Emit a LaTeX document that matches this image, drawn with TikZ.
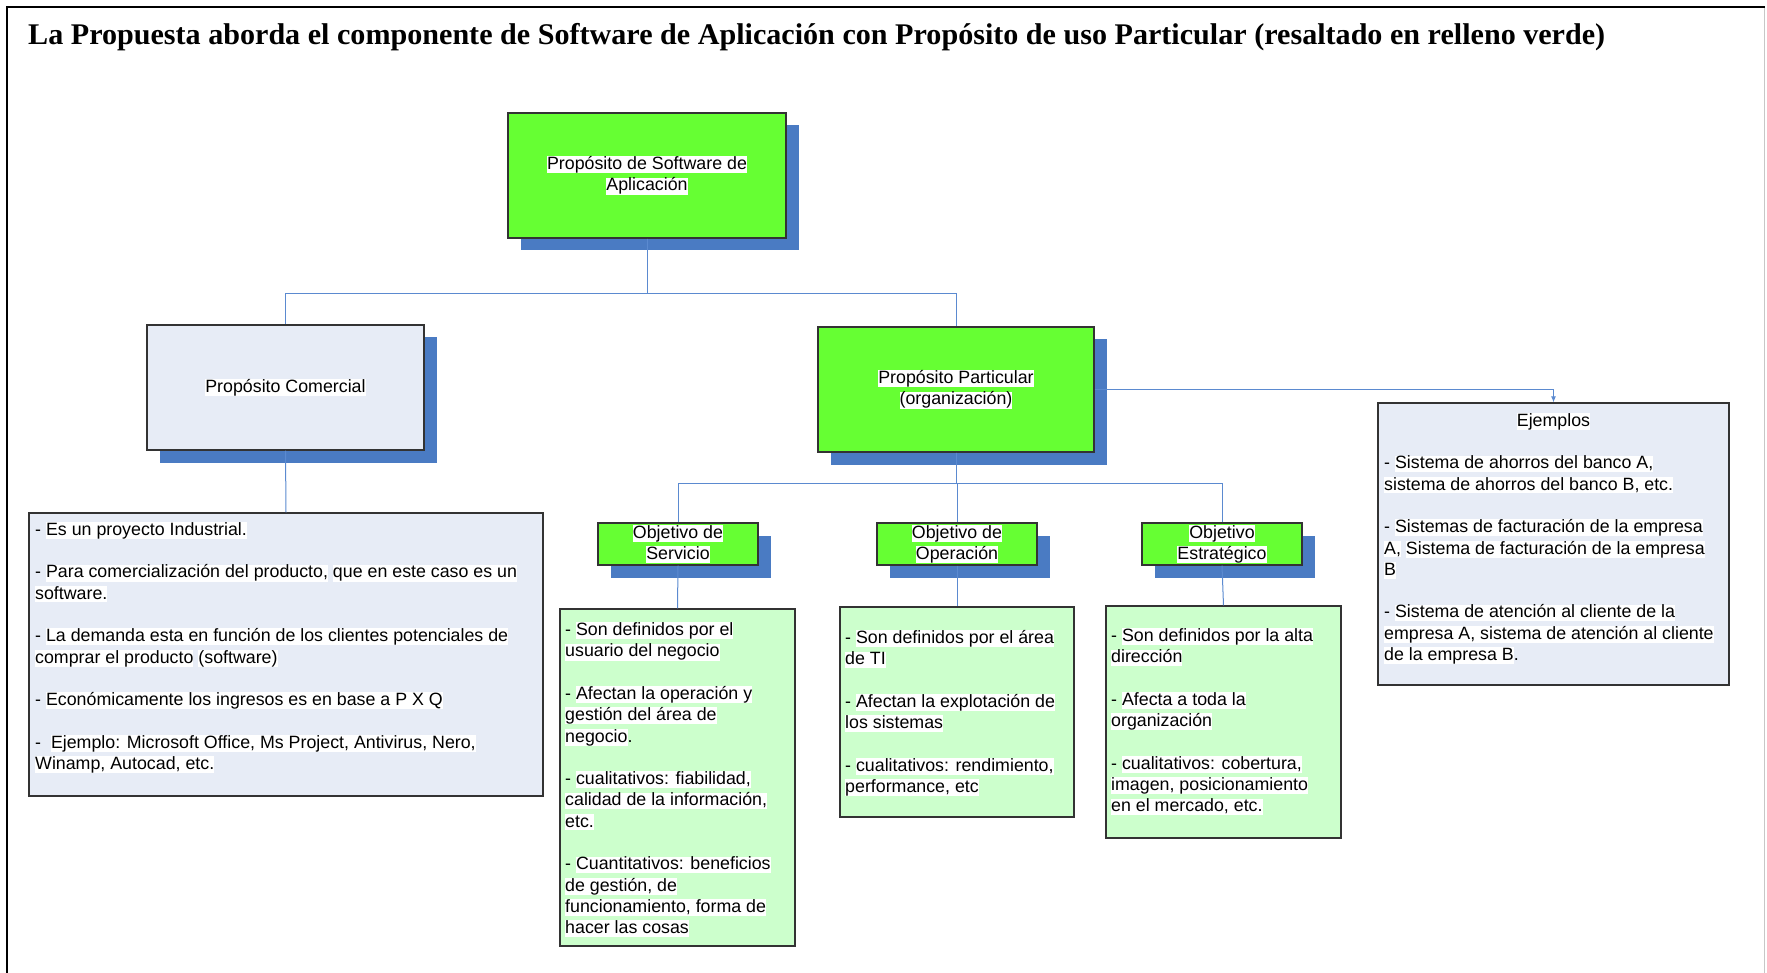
\documentclass[tikz,border=0pt]{standalone}
\usepackage{graphicx}
\usepackage{fontspec}
\setmainfont{Liberation Sans}
\newfontfamily\headfont{Liberation Serif}
\usetikzlibrary{arrows.meta,shadows}

\definecolor{boxgreen}{HTML}{66FF33}
\definecolor{paleblue}{HTML}{E7ECF6}
\definecolor{palegreen}{HTML}{CCFFCC}
\definecolor{shadowblue}{HTML}{4A7BC3}
\definecolor{linkblue}{HTML}{5B8AD0}
\definecolor{edgegray}{HTML}{333333}

% white highlight behind a run of text
\newcommand\hl[1]{{\setlength{\fboxsep}{0pt}\colorbox{white}{\rule[-0.18em]{0pt}{0.93em}#1}}}
\newcommand\bodysize{\fontsize{17.8pt}{21.3pt}\selectfont}

\tikzset{
  box/.style={draw=edgegray, line width=1.2pt, rectangle, inner sep=0pt,
              align=center, font=\bodysize},
  bshadow/.style={drop shadow={shadow xshift=12.5pt, shadow yshift=-12.5pt,
              fill=shadowblue, opacity=1, draw=none}},
  bigbox/.style={box, bshadow, minimum width=277pt, minimum height=125pt},
  goalbox/.style={box, bshadow, fill=boxgreen, minimum width=160pt, minimum height=42pt},
  notebox/.style={draw=edgegray, line width=1.2pt, rectangle, inner sep=0pt},
  listtext/.style={inner sep=0pt, align=left, font=\bodysize, anchor=north west},
  link/.style={draw=linkblue, line width=1pt},
}

\begin{document}
\begin{tikzpicture}[x=1pt, y=-1pt]
\useasboundingbox (0,0) rectangle (1767,973);

% page frame
\draw[black, line width=1.6pt] (7,975) -- (7,7) -- (1765,7);
\draw[black!22, line width=1pt] (1764,8) -- (1764,973);

% heading
\node[anchor=base west, inner sep=0pt] (title) at (28,45)
  {\resizebox{1577pt}{\height}{\headfont\bfseries\fontsize{30pt}{36pt}\selectfont
   La Propuesta aborda el componente de Software de Aplicación con Propósito de uso Particular (resaltado en relleno verde)}};

% main boxes
\node[bigbox, fill=boxgreen, minimum width=278pt] (soft) at (647,175.5)
  {\hl{Propósito de Software de}\\\hl{Aplicación}};
\node[bigbox, fill=paleblue] (com) at (285.5,387.5) {\hl{Propósito Comercial}};
\node[bigbox, fill=boxgreen, minimum width=276pt] (par) at (956,389.5)
  {\hl{Propósito Particular}\\\hl{(organización)}};

% objective boxes
\node[goalbox] (serv) at (678,544) {\hl{Objetivo de}\\\hl{Servicio}};
\node[goalbox] (oper) at (957,544) {\hl{Objetivo de}\\\hl{Operación}};
\node[goalbox] (estr) at (1222,544) {\hl{Objetivo}\\\hl{Estratégico}};

% note boxes
\node[notebox, fill=paleblue, minimum width=514pt, minimum height=283pt] (combul) at (286,654.5) {};
\node[notebox, fill=palegreen, minimum width=235pt, minimum height=337pt] (servbul) at (677.5,777.5) {};
\node[notebox, fill=palegreen, minimum width=234pt, minimum height=210pt] (operbul) at (957,712) {};
\node[notebox, fill=palegreen, minimum width=235pt, minimum height=232pt] (estrbul) at (1223.5,722) {};
\node[notebox, fill=paleblue, minimum width=351pt, minimum height=282pt] (ejem) at (1553.5,544) {};

% note texts
\node[listtext] (comtxt) at (35,521.7) {%
- \hl{Es un proyecto Industrial.}\\[21.3pt]
- \hl{Para comercialización del producto,} \hl{que en este caso es un}\\
\hl{software.}\\[21.3pt]
- \hl{La demanda esta en función de los clientes potenciales de}\\
\hl{comprar el producto} \hl{(software)}\\[21.3pt]
- \hl{Económicamente los ingresos es en base a P X Q}\\[21.3pt]
-\ \ \hl{Ejemplo: Microsoft Office, Ms Project, Antivirus, Nero,}\\
\hl{Winamp, Autocad, etc.}};

\node[listtext] (servtxt) at (565,622) {%
- \hl{Son definidos por el}\\
\hl{usuario del negocio}\\[21.3pt]
- \hl{Afectan la operación y}\\
\hl{gestión del área de}\\
\hl{negocio}.\\[21.3pt]
- \hl{cualitativos: fiabilidad,}\\
\hl{calidad de la información,}\\
\hl{etc.}\\[21.3pt]
- \hl{Cuantitativos: beneficios}\\
\hl{de gestión, de}\\
\hl{funcionamiento, forma de}\\
\hl{hacer las cosas}};

\node[listtext] (opertxt) at (845,630) {%
- \hl{Son definidos por el área}\\
\hl{de TI}\\[21.3pt]
- \hl{Afectan la explotación de}\\
\hl{los sistemas}\\[21.3pt]
- \hl{cualitativos: rendimiento,}\\
\hl{performance, etc}};

\node[listtext] (estrtxt) at (1111,628) {%
- \hl{Son definidos por la alta}\\
\hl{dirección}\\[21.3pt]
- \hl{Afecta a toda la}\\
\hl{organización}\\[21.3pt]
- \hl{cualitativos: cobertura,}\\
\hl{imagen, posicionamiento}\\
\hl{en el mercado, etc.}};

\node[inner sep=0pt, font=\bodysize, anchor=base] (ejemhead) at (1553.5,426) {\hl{Ejemplos}};
\node[listtext] (ejemtxt) at (1384,455.3) {%
- \hl{Sistema de ahorros del banco A,}\\
\hl{sistema de ahorros del banco B, etc.}\\[21.3pt]
- \hl{Sistemas de facturación de la empresa}\\
\hl{A,} \hl{Sistema de facturación de la empresa}\\
\hl{B}\\[21.3pt]
- \hl{Sistema de atención al cliente de la}\\
\hl{empresa A, sistema de atención al cliente}\\
\hl{de la empresa B}.};

% connectors
\draw[link] (soft.south) -- ++(0,55) -| (com.north);
\draw[link] (soft.south) -- ++(0,55) -| (par.north);
\draw[link] (com.south) -- (combul.north);
\draw[link] (par.south) -- ++(0,31) -| (serv.north);
\draw[link] (par.south) -- ++(0,31) -| (oper.north);
\draw[link] (par.south) -- ++(0,31) -| (estr.north);
\draw[link] (serv.south) -- (servbul.north);
\draw[link] (oper.south) -- (operbul.north);
\draw[link] (estr.south) -- (estrbul.north);
\draw[link, -{Latex[length=6pt, width=5pt]}] (par.east) -| (ejem.north);
\end{tikzpicture}
\end{document}
